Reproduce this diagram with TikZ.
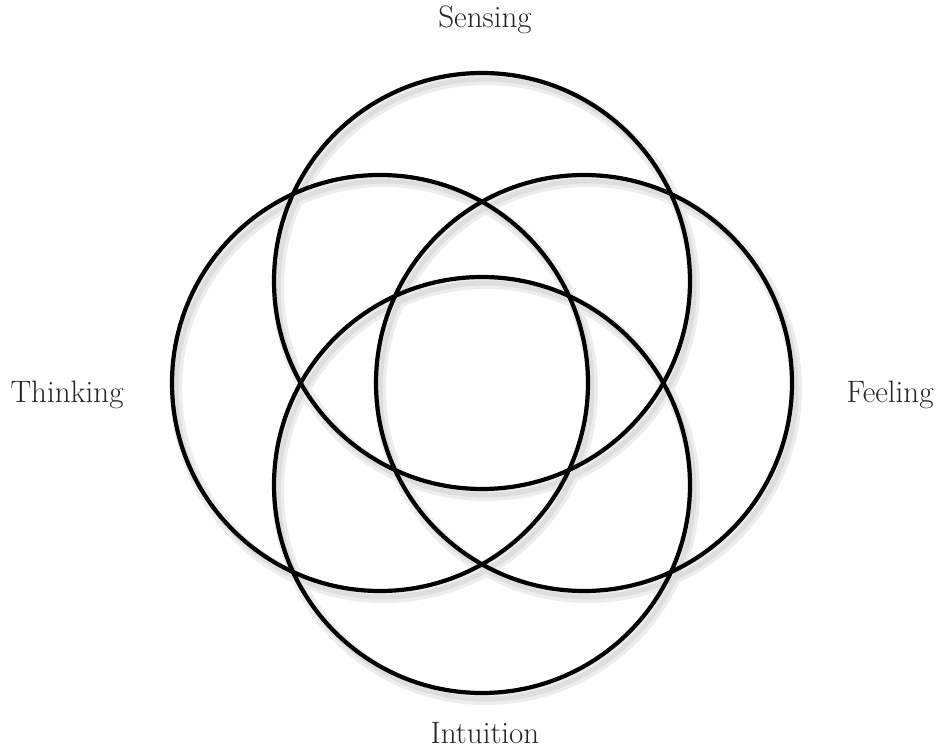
\documentclass[tikz,border=0pt]{standalone}
\usepackage{tikz}
\usetikzlibrary{
    positioning,
    calc
}

\begin{document}
\begin{tikzpicture}[
        x=1pt, y=1pt,
        every node/.style={font=\fontsize{31}{36}\selectfont},
        ring/.style={
            circle,
            draw=black,
            line width=4.2pt,
            minimum size=416pt,
            inner sep=0pt
        },
        ringshadow/.style={
            draw=black!7,
            line width=12pt
        },
        ringshadowcore/.style={
            draw=black!13,
            line width=5pt
        },
        lbl/.style={anchor=base,text=black!85,inner sep=0pt}
    ]
        \useasboundingbox (0,0) rectangle (942,750);

        % soft shadows first, so every ring lies on top of them
        \foreach \cx/\cy in {482/469, 380/367, 584/367, 482/265}
            \draw[ringshadow] (\cx+4,\cy-6) circle[radius=208];
        \foreach \cx/\cy in {482/469, 380/367, 584/367, 482/265}
            \draw[ringshadowcore] (\cx+4,\cy-6) circle[radius=208];

        \node[ring] (sensing)   at (482,469) {};
        \node[ring] (thinking)  at (380,367) {};
        \node[ring] (feeling)   at (584,367) {};
        \node[ring] (intuition) at (482,265) {};

        \node[lbl] (sensinglbl)   at (485,722) {Sensing};
        \node[lbl] (thinkinglbl)  at (67,347)  {Thinking};
        \node[lbl] (feelinglbl)   at (890,347) {Feeling};
        \node[lbl] (intuitionlbl) at (485,7)   {Intuition};
    \end{tikzpicture}
\end{document}
